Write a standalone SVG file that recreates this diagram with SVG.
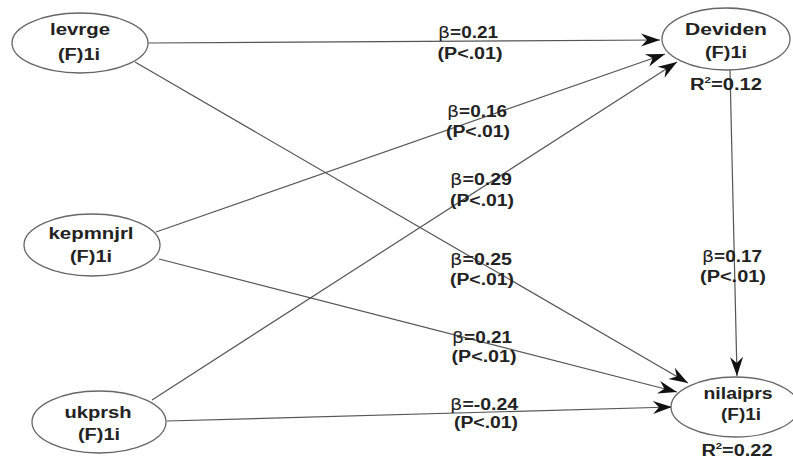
<svg xmlns="http://www.w3.org/2000/svg" width="793" height="459" viewBox="0 0 793 459">
<style>
.node ellipse{fill:#fff;stroke:#666;stroke-width:1.3}
text{font-family:"Liberation Sans",Arial,sans-serif;font-weight:bold;font-size:16px;fill:#222;text-anchor:middle}
.b{font-weight:normal;font-family:"DejaVu Sans",sans-serif}
.edges line{stroke:#555;stroke-width:1.2;marker-end:url(#ah)}
</style>
<defs>
<marker id="ah" markerUnits="userSpaceOnUse" viewBox="-20 -8 22 16" markerWidth="22" markerHeight="16" refX="0" refY="0" orient="auto">
<path d="M0,0 L-19,-6.5 L-13,0 L-19,6.5 Z" fill="#111"/>
</marker>
</defs>
<rect width="793" height="459" fill="#fff"/>
<g class="edges">
<line x1="148" y1="43" x2="660" y2="40"/>
<line x1="156" y1="232" x2="665" y2="54"/>
<line x1="152" y1="400" x2="677" y2="62"/>
<line x1="135" y1="62" x2="688" y2="383"/>
<line x1="159" y1="259" x2="677" y2="392"/>
<line x1="167" y1="421" x2="672" y2="407"/>
<line x1="730" y1="70" x2="737" y2="376"/>
</g>
<g id="labels">
<text x="468" y="38" textLength="60" lengthAdjust="spacingAndGlyphs"><tspan class="b">β</tspan>=0.21</text>
<text x="470" y="59" textLength="65" lengthAdjust="spacingAndGlyphs">(P&lt;.01)</text>
<text x="477" y="117" textLength="60" lengthAdjust="spacingAndGlyphs"><tspan class="b">β</tspan>=0.16</text>
<text x="478" y="137" textLength="64" lengthAdjust="spacingAndGlyphs">(P&lt;.01)</text>
<text x="481" y="185" textLength="62" lengthAdjust="spacingAndGlyphs"><tspan class="b">β</tspan>=0.29</text>
<text x="482" y="206" textLength="64" lengthAdjust="spacingAndGlyphs">(P&lt;.01)</text>
<text x="481" y="265" textLength="62" lengthAdjust="spacingAndGlyphs"><tspan class="b">β</tspan>=0.25</text>
<text x="482" y="285" textLength="64" lengthAdjust="spacingAndGlyphs">(P&lt;.01)</text>
<text x="732" y="262" textLength="60" lengthAdjust="spacingAndGlyphs"><tspan class="b">β</tspan>=0.17</text>
<text x="733" y="282" textLength="66" lengthAdjust="spacingAndGlyphs">(P&lt;.01)</text>
<text x="482" y="343" textLength="60" lengthAdjust="spacingAndGlyphs"><tspan class="b">β</tspan>=0.21</text>
<text x="484" y="362" textLength="65" lengthAdjust="spacingAndGlyphs">(P&lt;.01)</text>
<text x="484" y="410" textLength="68" lengthAdjust="spacingAndGlyphs"><tspan class="b">β</tspan>=-0.24</text>
<text x="486" y="428" textLength="64" lengthAdjust="spacingAndGlyphs">(P&lt;.01)</text>
</g>
<g id="levrge" class="node">
<ellipse cx="80" cy="43" rx="68" ry="30"/>
<text x="80" y="35" textLength="60" lengthAdjust="spacingAndGlyphs">levrge</text>
<text x="79" y="60" textLength="42" lengthAdjust="spacingAndGlyphs">(F)1i</text>
</g>
<g id="deviden" class="node">
<ellipse cx="726" cy="39" rx="64" ry="31"/>
<text x="726" y="35" textLength="82" lengthAdjust="spacingAndGlyphs">Deviden</text>
<text x="726" y="58" textLength="42" lengthAdjust="spacingAndGlyphs">(F)1i</text>
<text x="726" y="90" textLength="72" lengthAdjust="spacingAndGlyphs">R<tspan dy="-7" font-size="9">2</tspan><tspan dy="7">=0.12</tspan></text>
</g>
<g id="kepmnjrl" class="node">
<ellipse cx="92" cy="245" rx="68" ry="31"/>
<text x="91" y="239" textLength="85" lengthAdjust="spacingAndGlyphs">kepmnjrl</text>
<text x="91" y="262" textLength="42" lengthAdjust="spacingAndGlyphs">(F)1i</text>
</g>
<g id="ukprsh" class="node">
<ellipse cx="99" cy="422" rx="67" ry="31"/>
<text x="98" y="418" textLength="67" lengthAdjust="spacingAndGlyphs">ukprsh</text>
<text x="99" y="440" textLength="42" lengthAdjust="spacingAndGlyphs">(F)1i</text>
</g>
<g id="nilaiprs" class="node">
<ellipse cx="735" cy="407" rx="64" ry="30"/>
<text x="738" y="399" textLength="69" lengthAdjust="spacingAndGlyphs">nilaiprs</text>
<text x="741" y="420" textLength="40" lengthAdjust="spacingAndGlyphs">(F)1i</text>
<text x="737" y="456" textLength="71" lengthAdjust="spacingAndGlyphs">R<tspan dy="-7" font-size="9">2</tspan><tspan dy="7">=0.22</tspan></text>
</g>
</svg>
